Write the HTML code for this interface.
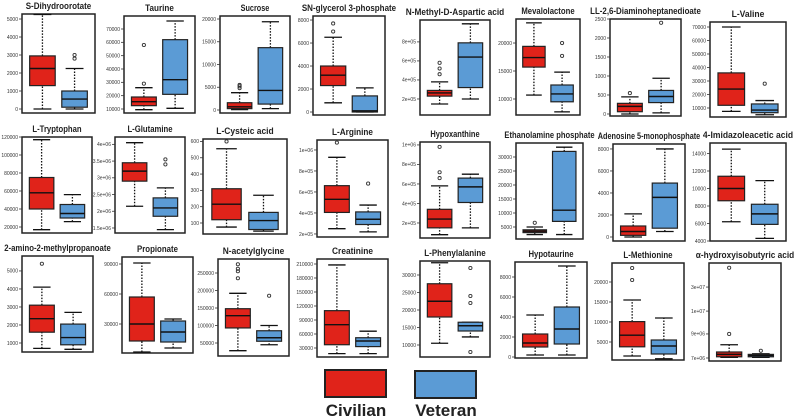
<!DOCTYPE html>
<html><head><meta charset="utf-8">
<style>
html,body{margin:0;padding:0;background:#fff;}
svg{display:block;font-family:"Liberation Sans",sans-serif;}
</style></head>
<body>
<svg id="fig" width="798" height="417" viewBox="0 0 798 417">
  <rect x="325" y="370" width="61" height="27" fill="#e0231a" stroke="#222" stroke-width="2"/>
  <text x="356" y="416" text-anchor="middle" font-size="17" font-weight="bold" fill="#222">Civilian</text>
  <rect x="415" y="371" width="61" height="27" fill="#5b9bd5" stroke="#222" stroke-width="2"/>
  <text x="446" y="416" text-anchor="middle" font-size="17" font-weight="bold" fill="#222">Veteran</text>
</svg>
<script>
const titles = ["S-Dihydroorotate","Taurine","Sucrose","SN-glycerol 3-phosphate","N-Methyl-D-Aspartic acid","Mevalolactone","LL-2,6-Diaminoheptanedioate","L-Valine",
"L-Tryptophan","L-Glutamine","L-Cysteic acid","L-Arginine","Hypoxanthine","Ethanolamine phosphate","Adenosine 5-monophosphate","4-Imidazoleacetic acid",
"2-amino-2-methylpropanoate","Propionate","N-acetylglycine","Creatinine","L-Phenylalanine","Hypotaurine","L-Methionine","\u03b1-hydroxyisobutyric acid"];
// value domain shown in each panel [low, high]
const domains = [[-222,5278],[7000,79750],[-660,20660],[-260,8350],[31600,1030000],[7140,24290],[-53,2500],[3330,73700],
[13330,120000],[1350000,4220000],[32.5,615],[171000,1095000],[46000,1030000],[714,35000],[-364,8450],[4000,15200],
[500,5830],[1000,97000],[12860,290000],[10700,220700],[6570,34000],[-100,9500],[500,24750],[6750000,14900000]];
const tickValues = [[0,1000,2000,3000,4000,5000],[10000,20000,30000,40000,50000,60000,70000],[0,5000,10000,15000,20000],[0,2000,4000,6000,8000],
[200000,400000,600000,800000],[10000,15000,20000],[0,500,1000,1500,2000,2500],[10000,20000,30000,40000,50000,60000,70000],
[20000,40000,60000,80000,100000,120000],[1500000,2000000,2500000,3000000,3500000,4000000],[100,200,300,400,500,600],[200000,400000,600000,800000,1000000],
[200000,400000,600000,800000,1000000],[5000,10000,15000,20000,25000,30000],[0,2000,4000,6000,8000],[4000,6000,8000,10000,12000,14000],
[1000,2000,3000,4000,5000],[30000,60000,90000],[50000,100000,150000,200000,250000],[30000,60000,90000,120000,150000,180000,210000],
[10000,15000,20000,25000,30000],[0,2000,4000,6000,8000],[5000,10000,15000,20000],[7000000,9000000,10900000,12900000]];
const tickLabels = [null,null,null,null,["2e+05","4e+05","6e+05","8e+05"],null,null,null,
null,["1.5e+06","2e+06","2.5e+06","3e+06","3.5e+06","4e+06"],null,["2e+05","4e+05","6e+05","8e+05","1e+06"],
["2e+05","4e+05","6e+05","8e+05","1e+06"],null,null,null,null,null,null,null,null,null,null,["7e+06","9e+06","1e+07","3e+07"]];
// [lower whisker, q1, median, q3, upper whisker]
const civStats = [[0,1300,2250,2950,5250],[9500,12500,15500,19000,26000],[100,300,700,1600,3800],[800,2300,3200,4000,6500],
[147000,230000,263000,290000,380000],[10700,15700,17400,19400,23600],[0,60,200,280,450],[7500,12000,24000,36000,70000],
[17000,40000,58000,75000,117000],[2150000,2900000,3200000,3450000,4050000],[75,120,215,310,555],[250000,405000,530000,660000,930000],
[80000,150000,240000,340000,580000],[2300,3000,3500,4000,5000],[0,150,500,1000,2100],[6200,8600,10000,11400,14500],
[700,1600,2350,3100,4100],[2000,13000,30000,57000,91000],[28000,93000,128000,148000,192000],[18000,37000,80000,110000,208000],
[10500,18000,22500,27500,33500],[200,1000,1400,2300,4200],[1500,3800,6700,10100,15500],[7050000,7100000,7300000,7500000,8100000]];
const civOutliers = [[],[29000,58000],[4800,5200,5500],[7000,7700],[460000,520000,580000],[],[550],[],
[],[],[600],[1070000],[660000,720000,980000],[6500],[],[],
[5400],[],[235000,255000,262000,275000],[],[],[],[20500,23500],[9000000,14500000]];
const vetStats = [[0,100,550,1000,2250],[10500,21000,32000,62000,76000],[300,1300,4300,13700,19400],[0,0,100,1400,2100],
[200000,320000,640000,790000,990000],[7700,9500,10900,12500,14800],[30,300,460,620,940],[5000,6500,8500,13000,15500],
[26000,30000,35000,45000,56000],[1450000,1850000,2100000,2400000,2700000],[50,60,115,165,270],[220000,290000,340000,410000,475000],
[150000,410000,570000,660000,700000],[2300,7000,11000,32000,33500],[500,800,3600,4900,8000],[4300,5900,7100,8200,10900],
[650,900,1300,2050,2700],[6000,12000,22000,33000,35000],[45000,55000,65000,85000,100000],[18000,33000,45000,52000,66000],
[12300,14000,15500,16500,16500],[200,1300,2800,5000,9100],[800,2000,4000,5500,11000],[7050000,7100000,7200000,7300000,7350000]];
const vetOutliers = [[2800,3000],[],[],[],[],[17700,20000],[2400],[28000],
[],[3400000,3550000],[],[680000],[],[],[],[],
[],[],[185000],[],[8000,22000,24000,32000],[],[],[7600000]];

// layout (panel frames, pixels)
const frames = [[22,14,73,99],[124,16,71,97],[220,16,70,97],[313,16,72,99],[420,20,70,95],[516,19,64,96],[610,19,71,97],[710,22,76,95],
[22,137,70,96],[115,137,70,96],[203,139,84,95],[317,140,71,97],[420,142,70,96],[516,143,67,96],[613,144,72,97],[710,143,76,98],
[22,256,71,96],[122,257,71,96],[218,259,71,97],[317,259,71,98],[420,261,70,96],[515,262,72,96],[612,263,72,97],[709,263,72,98]];

const NS = "http://www.w3.org/2000/svg";
const svg = document.getElementById("fig");
function mk(tag, attrs, parent){
  const e = document.createElementNS(NS, tag);
  for (const k in attrs) e.setAttribute(k, attrs[k]);
  parent.appendChild(e);
  return e;
}
function slug(s){ return s.toLowerCase().replace(/[^a-z0-9]+/g,"-").replace(/^-|-$/g,""); }

function drawBox(g, st, outs, cx, bw, y, fill, who){
  const bg = mk("g", {}, g);
  
  
  const dash = {stroke:"#111","stroke-width":1.3,"stroke-dasharray":"1.5,1.5"};
  mk("line", Object.assign({x1:cx,x2:cx,y1:y(st[0]),y2:y(st[1])}, dash), bg);
  mk("line", Object.assign({x1:cx,x2:cx,y1:y(st[3]),y2:y(st[4])}, dash), bg);
  const cap = bw*0.35;
  mk("line", {x1:cx-cap,x2:cx+cap,y1:y(st[0]),y2:y(st[0]),stroke:"#111","stroke-width":1.3}, bg);
  mk("line", {x1:cx-cap,x2:cx+cap,y1:y(st[4]),y2:y(st[4]),stroke:"#111","stroke-width":1.3}, bg);
  const top = y(st[3]), bot = y(st[1]);
  mk("rect", {x:cx-bw/2,y:top,width:bw,height:Math.max(1,bot-top),fill:fill,stroke:"#222","stroke-width":1.2}, bg);
  mk("line", {x1:cx-bw/2,x2:cx+bw/2,y1:y(st[2]),y2:y(st[2]),stroke:"#111","stroke-width":1.4}, bg);
  outs.forEach(v=>{
    const c = mk("circle", {cx:cx,cy:y(v),r:1.6,fill:"none",stroke:"#333","stroke-width":0.9}, bg);
    
    
  });
}

titles.forEach((t,i)=>{
  const [fx,fy,fw,fh] = frames[i];
  const [lo,hi] = domains[i];
  const y = v => fy + fh - (v-lo)/(hi-lo)*fh;
  const g = mk("g", {}, svg);
  
  
  const tt = mk("text", {x:fx+fw/2,y:fy-5,"text-anchor":"middle","font-size":9,"font-weight":"bold",fill:"#222",
    textLength:(t.length*4.1).toFixed(1),lengthAdjust:"spacingAndGlyphs"}, g);
  tt.textContent = t;
  
  
  const fr = mk("rect", {x:fx,y:fy,width:fw,height:fh,fill:"#fff",stroke:"#222","stroke-width":1.5}, g);
  
  
  const ax = mk("g", {}, g);
  
  
  tickValues[i].forEach((v,k)=>{
    const ty = y(v);
    mk("line", {x1:fx-3,x2:fx,y1:ty,y2:ty,stroke:"#333","stroke-width":0.8}, ax);
    const lab = mk("text", {x:fx-4,y:ty+1.8,"text-anchor":"end","font-size":5,fill:"#333"}, ax);
    lab.textContent = tickLabels[i] ? tickLabels[i][k] : String(v);
    
    
  });
  const bw = fw*0.35;
  drawBox(g, civStats[i], civOutliers[i], fx+fw*0.28, bw, y, "#e0231a", "civilian");
  drawBox(g, vetStats[i], vetOutliers[i], fx+fw*0.72, bw, y, "#5b9bd5", "veteran");
});
</script>
</body></html>
